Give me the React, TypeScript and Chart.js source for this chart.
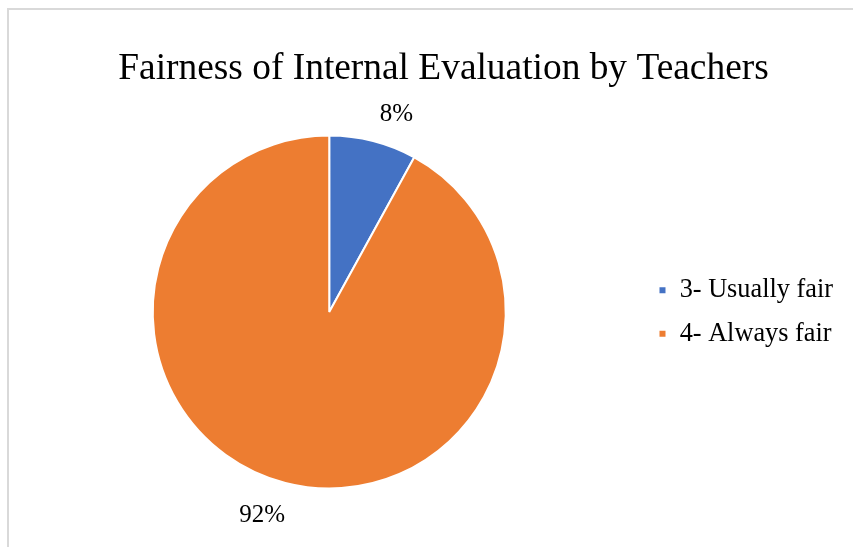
import { useEffect, useRef } from "react";
import { Chart, registerables } from "chart.js";

Chart.register(...registerables);

const TITLE = "Fairness of Internal Evaluation by Teachers";
const CATEGORIES = ["3- Usually fair", "4- Always fair"];
const VALUES = [8, 92];
const COLORS = ["#4472C4", "#ED7D31"];

const FONT = "'Times New Roman', 'Liberation Serif', serif";

export default function App() {
  const ref = useRef<HTMLCanvasElement>(null);

  useEffect(() => {
    const canvas = ref.current!;
    const framePlugin = {
      id: "frame",
      beforeDraw(chart: any) {
        const ctx = chart.ctx;
        ctx.save();
        ctx.fillStyle = "#ffffff";
        ctx.fillRect(0, 0, chart.width, chart.height);
        ctx.fillStyle = "#d9d9d9";
        ctx.fillRect(7, 8, 2, chart.height - 8);
        ctx.fillRect(7, 8, chart.width - 7, 2);
        ctx.restore();
      },
      afterDraw(chart: any) {
        const ctx = chart.ctx;
        ctx.save();
        ctx.fillStyle = "#000000";
        ctx.font = `37.4px ${FONT}`;
        ctx.textAlign = "center";
        ctx.textBaseline = "alphabetic";
        ctx.fillText(TITLE, 443.5, 79);

        const meta = chart.getDatasetMeta(0);
        const total = VALUES.reduce((a, b) => a + b, 0);
        const size = 25;
        ctx.font = `${size}px ${FONT}`;
        meta.data.forEach((arc: any, i: number) => {
          const p = arc.getProps(["x", "y", "startAngle", "endAngle", "outerRadius"], true);
          const mid = (p.startAngle + p.endAngle) / 2 + 0.072;
          const d = p.outerRadius + 35;
          const pct = Math.round((VALUES[i] / total) * 100) + "%";
          ctx.fillText(pct, p.x + Math.cos(mid) * d, p.y + Math.sin(mid) * d + size * 0.34 + 1);
        });
        ctx.restore();
      },
    };

    const chart = new Chart(canvas, {
      type: "pie",
      data: {
        labels: CATEGORIES,
        datasets: [
          {
            data: VALUES,
            backgroundColor: COLORS,
            borderColor: "#ffffff",
            borderWidth: 2,
          },
        ],
      },
      options: {
        responsive: false,
        animation: false,
        layout: { padding: { left: 17, right: 10, top: 134.5, bottom: 57.5 } },
        plugins: {
          title: { display: false },
          tooltip: { enabled: false },
          legend: {
            display: true,
            position: "right",
            align: "center",
            labels: {
              boxWidth: 8,
              boxHeight: 8,
              padding: 17,
              color: "#000000",
              font: { family: FONT, size: 26.3 },
            },
          },
        },
      },
      plugins: [framePlugin],
    });
    return () => chart.destroy();
  }, []);

  return (
    <div style={{ position: "fixed", left: 0, top: 0, width: 853, height: 547, background: "#fff" }}>
      <canvas ref={ref} width={853} height={547} style={{ display: "block", width: 853, height: 547 }} />
    </div>
  );
}
